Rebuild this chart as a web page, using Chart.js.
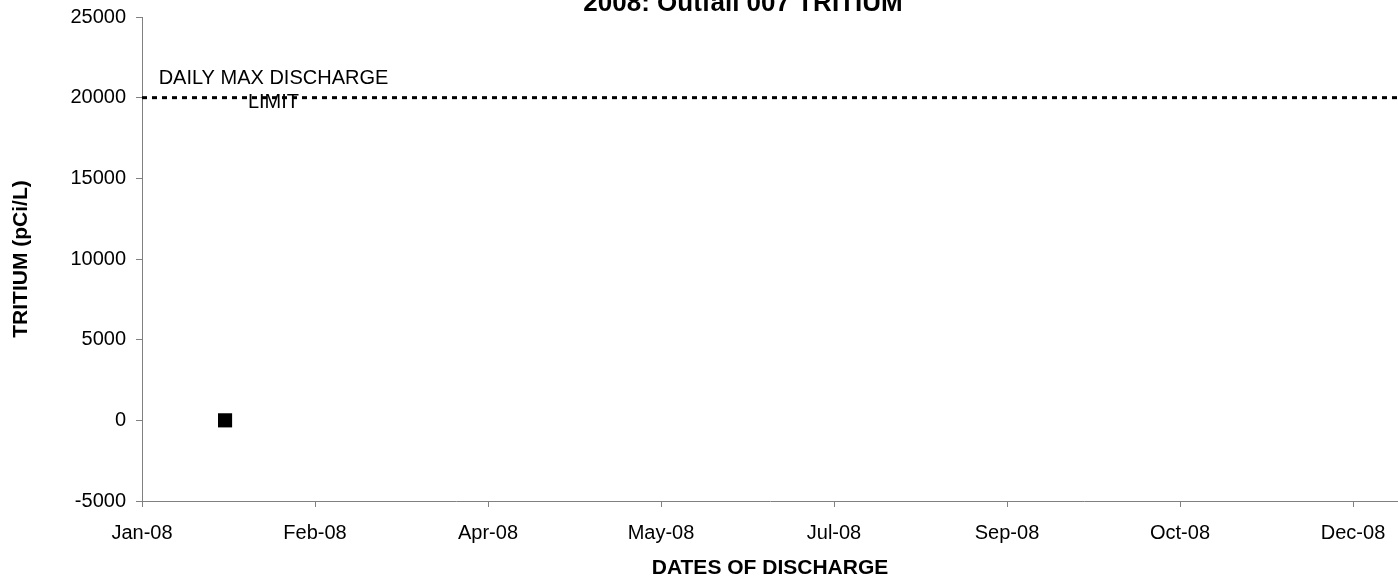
<!DOCTYPE html>
<html>
<head>
<meta charset="utf-8">
<script src="https://cdn.jsdelivr.net/npm/chart.js@4.4.1/dist/chart.umd.min.js"></script>
<style>
  html, body { margin: 0; padding: 0; background: #fff; }
  #wrap { width: 1398px; height: 579px; }
</style>
</head>
<body>
<div id="wrap"><canvas id="tritium" width="1398" height="579"></canvas></div>
<script>
// Samples taken at Outfall 007 in 2008 (only one reported this year).
const sampleDates = ["2008-01-25"];
const tritiumValues = [0];

// Daily max discharge limit (pCi/L) and its label lines.
const limitValue = [20000];
const limitLabel = ["DAILY MAX DISCHARGE", "LIMIT"];

// Date axis: Excel-style, starting Jan 1 2008 with a major unit of 50 days.
const axisStart = "2008-01-01";
const axisDays = [0, 363];
const xStepDays = 50;
const xTickLabels = ["Jan-08", "Feb-08", "Apr-08", "May-08", "Jul-08", "Sep-08", "Oct-08", "Dec-08"];

// Value axis.
const yRange = [-5000, 25000];
const yStep = 5000;

const FONT = '"Liberation Sans", Arial, sans-serif';
const AXIS_GREY = "#808080";

// Days since the start of the axis.
function dayOf(iso) {
  return (Date.parse(iso) - Date.parse(axisStart)) / 86400000;
}

const samplePoints = sampleDates.map((d, i) => ({ x: dayOf(d), y: tritiumValues[i] }));
const limitPoints = axisDays.map(d => ({ x: d, y: limitValue[0] }));

// Title sits half off the top of the picture, like the original export.
const titlePlugin = {
  id: "cutTitle",
  afterDraw(chart) {
    const { ctx } = chart;
    ctx.save();
    ctx.font = "bold 26px " + FONT;
    ctx.fillStyle = "#000";
    ctx.textAlign = "center";
    ctx.textBaseline = "alphabetic";
    ctx.fillText("2008: Outfall 007 TRITIUM", 743, 11);
    ctx.restore();
  },
};

// Text label for the dotted limit line, anchored in data space.
const limitLabelPlugin = {
  id: "limitLabel",
  afterDatasetsDraw(chart) {
    const { ctx, scales } = chart;
    const x = scales.x.getPixelForValue(38);
    const y = scales.y.getPixelForValue(limitValue[0]);
    ctx.save();
    ctx.font = "20px " + FONT;
    ctx.fillStyle = "#000";
    ctx.textAlign = "center";
    ctx.textBaseline = "middle";
    ctx.fillText(limitLabel[0], x, y - 19);
    ctx.fillText(limitLabel[1], x, y + 5);
    ctx.restore();
  },
};

new Chart(document.getElementById("tritium").getContext("2d"), {
  type: "scatter",
  data: {
    datasets: [
      {
        label: "Limit",
        data: limitPoints,
        showLine: true,
        borderColor: "#000",
        borderWidth: 3,
        borderDash: [5, 5],
        pointRadius: 0,
        fill: false,
      },
      {
        label: "Tritium",
        data: samplePoints,
        pointStyle: "rect",
        pointRadius: 10,
        backgroundColor: "#000",
        borderColor: "#000",
        borderWidth: 0,
      },
    ],
  },
  options: {
    responsive: false,
    devicePixelRatio: 1,
    animation: false,
    // plot runs off the right edge in the original export, so no auto room for markers
    layout: { autoPadding: false, padding: { top: 17, right: 0, bottom: 0, left: 0 } },
    plugins: { legend: { display: false }, tooltip: { enabled: false }, title: { display: false } },
    scales: {
      x: {
        type: "linear",
        min: axisDays[0],
        max: axisDays[1],
        afterFit: s => { s.height = 78; s.paddingLeft = 0; s.paddingRight = 0; },
        grid: { drawOnChartArea: false, drawTicks: true, tickLength: 6, color: AXIS_GREY },
        border: { color: AXIS_GREY, width: 1 },
        ticks: {
          stepSize: xStepDays,
          includeBounds: false,
          autoSkip: false,
          maxRotation: 0,
          padding: 14,
          color: "#000",
          font: { family: FONT, size: 20 },
          callback: (v, i) => xTickLabels[i],
        },
        title: {
          display: true,
          text: "DATES OF DISCHARGE",
          color: "#000",
          font: { family: FONT, size: 21, weight: "bold", lineHeight: 1 },
          padding: { top: 0, bottom: 0 },
        },
      },
      y: {
        min: yRange[0],
        max: yRange[1],
        afterFit: s => { s.width = 142; s.paddingTop = 0; s.paddingBottom = 0; },
        grid: { drawOnChartArea: false, drawTicks: true, tickLength: 6, color: AXIS_GREY },
        border: { color: AXIS_GREY, width: 1 },
        ticks: {
          stepSize: yStep,
          padding: 10,
          color: "#000",
          font: { family: FONT, size: 20 },
          callback: v => String(v),
        },
        title: {
          display: true,
          text: "TRITIUM (pCi/L)",
          color: "#000",
          font: { family: FONT, size: 21, weight: "bold" },
          padding: { top: 9, bottom: 0 },
        },
      },
    },
  },
  plugins: [titlePlugin, limitLabelPlugin],
});
</script>
</body>
</html>
